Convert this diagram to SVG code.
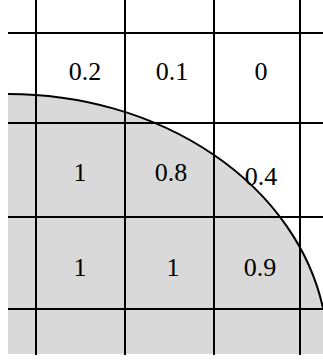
<svg xmlns="http://www.w3.org/2000/svg" width="323" height="362" viewBox="0 0 323 362">
<style>
.grid{stroke:#000;stroke-width:2;fill:none}
.arc{stroke:#000;stroke-width:2;fill:none}
.v{font-family:"Liberation Serif","Times New Roman",Times,serif;font-size:26px;fill:#000;text-anchor:middle}
</style>
<rect width="323" height="362" fill="#fff"/>
<g id="region">
<path d="M8,94 A320,260 0 0 1 323,308 L323,354 L8,354 Z" fill="#d9d9d9"/>
</g>
<g id="grid" class="grid">
<line x1="8" y1="33" x2="323" y2="33"/>
<line x1="8" y1="123" x2="323" y2="123"/>
<line x1="8" y1="217" x2="323" y2="217"/>
<line x1="8" y1="309" x2="323" y2="309"/>
<line x1="36" y1="0" x2="36" y2="355"/>
<line x1="125" y1="0" x2="125" y2="355"/>
<line x1="214" y1="0" x2="214" y2="355"/>
<line x1="300" y1="0" x2="300" y2="355"/>
</g>
<g id="boundary">
<path class="arc" d="M8,94 A320,260 0 0 1 323,308"/>
</g>
<g id="values" class="v">
<text x="85" y="80">0.2</text>
<text x="172" y="80">0.1</text>
<text x="261" y="80">0</text>
<text x="80" y="181">1</text>
<text x="171" y="181">0.8</text>
<text x="261" y="185">0.4</text>
<text x="80" y="276">1</text>
<text x="173" y="276">1</text>
<text x="260" y="276">0.9</text>
</g>
</svg>
